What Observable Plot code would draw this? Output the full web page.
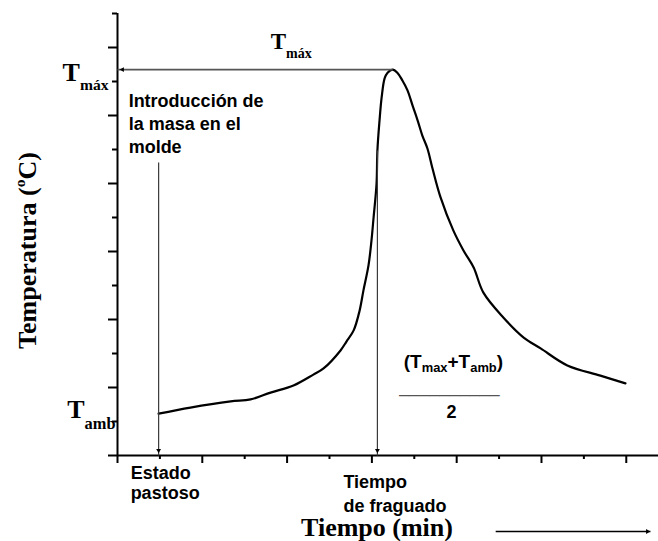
<!DOCTYPE html>
<html>
<head>
<meta charset="utf-8">
<script src="https://cdn.jsdelivr.net/npm/d3@7"></script>
<script src="https://cdn.jsdelivr.net/npm/@observablehq/plot@0.6"></script>
<style>
  body { margin: 0; background: #fff; }
</style>
</head>
<body>
<div id="grafico"></div>
<script>
// Evolución de la temperatura de la masa durante el fraguado (unidades arbitrarias)
const tiempo = [0.97, 1.72, 2.67, 3.14, 3.61, 4.15, 4.62, 4.86, 5.26, 5.40,
                5.57, 5.71, 5.80, 5.92, 5.99, 6.04, 6.11, 6.13, 6.18, 6.23,
                6.30, 6.37, 6.49, 6.60, 6.72, 6.84, 6.96, 7.08, 7.19, 7.31,
                7.43, 7.62, 7.92, 8.16, 8.40, 8.63, 9.10, 9.58, 9.98,
                10.61, 11.39, 11.98];
const temperatura = [1.23, 1.41, 1.59, 1.65, 1.85, 2.06, 2.38, 2.56, 3.09, 3.35,
                     3.68, 4.26, 4.85, 5.59, 6.32, 7.00, 8.00, 8.97, 9.85, 10.53,
                     11.09, 11.26, 11.35, 11.26, 11.03, 10.74, 10.29, 9.85, 9.41, 9.03,
                     8.44, 7.59, 6.62, 6.03, 5.53, 4.79, 4.06, 3.47, 3.15,
                     2.65, 2.35, 2.12];

// Instantes marcados y arranque de las flechas verticales
const tPastoso = 0.97;
const tFraguado = 6.13;
const alturaFlechaPastoso = 8.62;
const alturaFlechaFraguado = 8.97;

// Marcas de los ejes (sin rótulos numéricos)
const ticksXMayores = [0, 2, 4, 6, 8, 10, 12];
const ticksXMenores = [1, 3, 5, 7, 9, 11];
const ticksYMayores = [0, 2, 4, 6, 8, 10, 12];
const ticksYMenores = [1, 3, 5, 7, 9, 11, 13];

// Flecha que acompaña al título del eje de tiempos
const flechaTiempo = [8.92, 12.57];

// Textos
const tituloY = "Temperatura (^{o}C)";
const tituloX = "Tiempo (min)";
const textoIntroduccion = "Introducción de\nla masa en el\nmolde";
const textoPastoso = "Estado\npastoso";
const textoFraguado = "Tiempo\nde fraguado";
const textoMaxima = "T_{máx}";
const textoAmbiente = "T_{amb}";
const textoNumerador = "(T_{max}+T_{amb})";
const textoDenominador = "2";

const Tmax = d3.max(temperatura);
const Tamb = temperatura[0];
const tPico = tiempo[d3.maxIndex(temperatura)];
const curva = tiempo.map((t, i) => ({t, T: temperatura[i]}));

const serif = "'Liberation Serif', 'Times New Roman', serif";
const sans = "'Liberation Sans', Arial, sans-serif";
const gris = "#3a3a3a";

const negritaSerif = {fontFamily: serif, fontWeight: "bold", lineAnchor: "bottom", fill: "#000"};
const negritaSans = {fontFamily: sans, fontWeight: "bold", lineAnchor: "bottom", fill: "#000"};
// Etiqueta aria por elemento, para localizar después los textos con índices
const etiqueta = (nombre) => ({ariaLabel: () => nombre});

const grafico = Plot.plot({
  width: 658,
  height: 541,
  marginLeft: 117,
  marginRight: 0,
  marginTop: 13,
  marginBottom: 86,
  x: {domain: [0, 12.76], axis: null},
  y: {domain: [0, 13], axis: null},
  style: {background: "#fff", fontFamily: sans, overflow: "visible"},
  marks: [
    // Ejes
    Plot.ruleY([0], {stroke: "#000", strokeWidth: 2}),
    Plot.ruleX([0], {y1: 0, y2: 13, stroke: "#000", strokeWidth: 2}),
    Plot.axisX(ticksXMayores, {tickSize: 8, tickFormat: () => "", label: null, stroke: "#000", strokeWidth: 2}),
    Plot.axisX(ticksXMenores, {tickSize: 4, tickFormat: () => "", label: null, stroke: "#000", strokeWidth: 2}),
    Plot.axisY(ticksYMayores, {tickSize: 9, tickFormat: () => "", label: null, stroke: "#000", strokeWidth: 2}),
    Plot.axisY(ticksYMenores, {tickSize: 5, tickFormat: () => "", label: null, stroke: "#000", strokeWidth: 2}),

    // Curva de temperatura
    Plot.line(curva, {x: "t", y: "T", curve: "catmull-rom", stroke: "#000", strokeWidth: 2.2}),

    // Flecha horizontal hasta la temperatura máxima
    Plot.link([Tmax], {x1: tPico, x2: 0, y1: d => d, y2: d => d, stroke: "#555", strokeWidth: 1.6}),
    Plot.dot([Tmax], {x: 0, y: d => d, dx: 5, symbol: "triangle2", rotate: -90, r: 2.3, fill: "#000", stroke: "none"}),

    // Flechas verticales
    Plot.link([tPastoso], {x1: d => d, x2: d => d, y1: alturaFlechaPastoso, y2: 0, stroke: gris, strokeWidth: 1.2}),
    Plot.link([tFraguado], {x1: d => d, x2: d => d, y1: alturaFlechaFraguado, y2: 0, stroke: gris, strokeWidth: 1.2}),
    Plot.dot([tPastoso, tFraguado], {x: d => d, y: 0, dy: -5, symbol: "triangle2", rotate: 180, r: 2.3, fill: "#000", stroke: "none"}),

    // Flecha del eje de tiempos
    Plot.link([flechaTiempo], {x1: d => d[0], x2: d => d[1], y1: 0, y2: 0, dy: 76, stroke: "#000", strokeWidth: 1.3}),
    Plot.dot([flechaTiempo], {x: d => d[1], y: 0, dy: 76, dx: -3, symbol: "triangle2", rotate: 90, r: 2.3, fill: "#000", stroke: "none"}),

    // Títulos de los ejes
    Plot.text([tituloY], {frameAnchor: "left", rotate: -90, dx: -82, dy: 16, fontSize: 26, textAnchor: "middle", ...negritaSerif, ...etiqueta("titulo-y")}),
    Plot.text([tituloX], {frameAnchor: "bottom", dx: -11, dy: 80, fontSize: 26, textAnchor: "middle", ...negritaSerif}),

    // Niveles de temperatura
    Plot.text([textoMaxima], {x: 0, y: Tmax, dx: -9, dy: 11, fontSize: 26, textAnchor: "end", ...negritaSerif, ...etiqueta("nivel-max")}),
    Plot.text([textoAmbiente], {x: 0, y: Tamb, dx: -2, dy: 4, fontSize: 26, textAnchor: "end", ...negritaSerif, ...etiqueta("nivel-amb")}),
    Plot.text([textoMaxima], {x: tPico, y: Tmax, dx: -122, dy: -21, fontSize: 23, textAnchor: "start", ...negritaSerif, ...etiqueta("flecha-max")}),

    // Anotaciones
    Plot.text([textoIntroduccion], {x: tPastoso, y: alturaFlechaPastoso, dx: -30, dy: -9, fontSize: 18, lineHeight: 1.3, textAnchor: "start", ...negritaSans}),
    Plot.text([textoPastoso], {x: tPastoso, y: 0, dx: -28, dy: 43, fontSize: 18, lineHeight: 1.11, textAnchor: "start", ...negritaSans}),
    Plot.text([textoFraguado], {x: tFraguado, y: 0, dx: -34, dy: 56, fontSize: 18, lineHeight: 1.28, textAnchor: "start", ...negritaSans}),

    // Temperatura media (Tmax + Tamb) / 2
    Plot.text([textoNumerador], {x: tFraguado, y: 0, dx: 76, dy: -88, fontSize: 19, textAnchor: "middle", ...negritaSans, ...etiqueta("numerador")}),
    Plot.text(["__________"], {x: tFraguado, y: 0, dx: 72, dy: -64, fontSize: 18, textAnchor: "middle", fontFamily: sans, lineAnchor: "bottom", fill: "#555"}),
    Plot.text([textoDenominador], {x: tFraguado, y: 0, dx: 74, dy: -38, fontSize: 18, textAnchor: "middle", ...negritaSans})
  ]
});

document.getElementById("grafico").append(grafico);

// Convierte las marcas _{...} y ^{...} de los textos en subíndices y superíndices
function indices(raiz, nombre, {escala = 0.62, bajada = 0.36, subida = 0.42} = {}) {
  raiz.querySelectorAll(`text[aria-label="${nombre}"]`).forEach(texto => {
    texto.removeAttribute("aria-label");
    const tspans = texto.querySelectorAll("tspan");
    const nodos = tspans.length ? [...tspans] : [texto];
    for (const nodo of nodos) {
      const cadena = nodo.textContent;
      if (!/[_^]\{/.test(cadena)) continue;
      const fs = parseFloat(getComputedStyle(nodo).fontSize);
      nodo.textContent = "";
      let desplazamiento = 0;
      const re = /([_^])\{([^}]*)\}|([^_^]+)/g;
      let m;
      while ((m = re.exec(cadena))) {
        const tspan = document.createElementNS("http://www.w3.org/2000/svg", "tspan");
        let objetivo = 0;
        if (m[1] === "_") {
          objetivo = bajada * fs;
          tspan.setAttribute("font-size", escala * fs);
          tspan.textContent = m[2];
        } else if (m[1] === "^") {
          objetivo = -subida * fs;
          tspan.setAttribute("font-size", escala * fs);
          tspan.textContent = m[2];
        } else {
          tspan.textContent = m[3];
        }
        const dy = objetivo - desplazamiento;
        if (dy) tspan.setAttribute("dy", dy);
        desplazamiento = objetivo;
        nodo.appendChild(tspan);
      }
    }
  });
}

indices(grafico, "titulo-y", {escala: 0.6, subida: 0.4});
indices(grafico, "nivel-max", {escala: 0.6, bajada: 0.35});
indices(grafico, "nivel-amb", {escala: 0.63, bajada: 0.42});
indices(grafico, "flecha-max", {escala: 0.61, bajada: 0.39});
indices(grafico, "numerador", {escala: 0.68, bajada: 0.26});
</script>
</body>
</html>
